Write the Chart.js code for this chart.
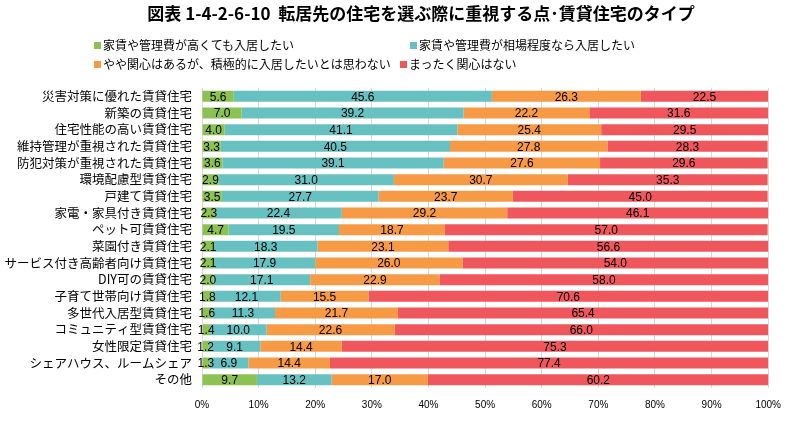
<!DOCTYPE html>
<html lang="ja">
<head>
<meta charset="utf-8">
<script src="https://cdn.jsdelivr.net/npm/chart.js@4.4.1/dist/chart.umd.min.js"></script>
<style>
  body { margin: 0; background: #fff; overflow: hidden; }
  #wrap { position: relative; width: 792px; height: 422px; overflow: hidden; }
  #title {
    position: absolute; top: 3px; left: 0; width: 842px; text-align: center;
    white-space: nowrap; font: bold 17px/20px "Noto Sans CJK JP", sans-serif; color: #000;
  }
  .leg {
    position: absolute; white-space: nowrap; font: 12px/16px "Noto Sans CJK JP", sans-serif; color: #000;
  }
  .leg i { display: inline-block; width: 7px; height: 7px; margin-right: 2px; vertical-align: 1px; }
  canvas { position: absolute; left: 0; top: 0; }
</style>
</head>
<body>
<div id="wrap">
  <canvas id="chart" width="792" height="422"></canvas>
  <div id="title">図表 1-4-2-6-10&nbsp;&nbsp;転居先の住宅を選ぶ際に重視する点･賃貸住宅のタイプ</div>
  <div id="legend"></div>
</div>
<script>
// Categories (top to bottom)
const categories = [
  '災害対策に優れた賃貸住宅', '新築の賃貸住宅', '住宅性能の高い賃貸住宅',
  '維持管理が重視された賃貸住宅', '防犯対策が重視された賃貸住宅', '環境配慮型賃貸住宅',
  '戸建て賃貸住宅', '家電・家具付き賃貸住宅', 'ペット可賃貸住宅', '菜園付き賃貸住宅',
  'サービス付き高齢者向け賃貸住宅', 'DIY可の賃貸住宅', '子育て世帯向け賃貸住宅',
  '多世代入居型賃貸住宅', 'コミュニティ型賃貸住宅', '女性限定賃貸住宅',
  'シェアハウス、ルームシェア', 'その他'
];

const seriesNames = [
  '家賃や管理費が高くても入居したい',
  '家賃や管理費が相場程度なら入居したい',
  'やや関心はあるが、積極的に入居したいとは思わない',
  'まったく関心はない'
];

const highRent   = [5.6, 7.0, 4.0, 3.3, 3.6, 2.9, 3.5, 2.3, 4.7, 2.1, 2.1, 2.0, 1.8, 1.6, 1.4, 1.2, 1.3, 9.7];
const marketRent = [45.6, 39.2, 41.1, 40.5, 39.1, 31.0, 27.7, 22.4, 19.5, 18.3, 17.9, 17.1, 12.1, 11.3, 10.0, 9.1, 6.9, 13.2];
const someInterest = [26.3, 22.2, 25.4, 27.8, 27.6, 30.7, 23.7, 29.2, 18.7, 23.1, 26.0, 22.9, 15.5, 21.7, 22.6, 14.4, 14.4, 17.0];
const noInterest = [22.5, 31.6, 29.5, 28.3, 29.6, 35.3, 45.0, 46.1, 57.0, 56.6, 54.0, 58.0, 70.6, 65.4, 66.0, 75.3, 77.4, 60.2];

const colors = ['#8dc253', '#68c1c1', '#f79a46', '#f0575c'];

// HTML legend, laid out like the original
const legendPos = [[94, 36.5], [410, 36.5], [94, 56], [400, 56]];
const legendEl = document.getElementById('legend');
seriesNames.forEach((name, i) => {
  const d = document.createElement('div');
  d.className = 'leg';
  d.style.left = legendPos[i][0] + 'px';
  d.style.top = legendPos[i][1] + 'px';
  d.innerHTML = `<i style="background:${colors[i]}"></i>${name}`;
  legendEl.appendChild(d);
});

// Draw value in the middle of each segment
const segmentLabels = {
  id: 'segmentLabels',
  afterDatasetsDraw(chart) {
    const ctx = chart.ctx;
    ctx.save();
    ctx.font = '12px "Liberation Sans", Arial, sans-serif';
    ctx.fillStyle = '#000';
    ctx.textAlign = 'center';
    ctx.textBaseline = 'middle';
    chart.data.datasets.forEach((ds, i) => {
      chart.getDatasetMeta(i).data.forEach((bar, j) => {
        const p = bar.getProps(['x', 'y', 'base'], true);
        ctx.fillText(ds.data[j].toFixed(1), (p.x + p.base) / 2, p.y + 1);
      });
    });
    ctx.restore();
  }
};

const allSeries = [highRent, marketRent, someInterest, noInterest];

new Chart(document.getElementById('chart'), {
  type: 'bar',
  data: {
    labels: categories,
    datasets: allSeries.map((data, i) => ({
      label: seriesNames[i],
      data: data,
      backgroundColor: colors[i],
      borderWidth: 0,
      barPercentage: 0.66,
      categoryPercentage: 1
    }))
  },
  options: {
    indexAxis: 'y',
    responsive: false,
    animation: false,
    layout: { padding: { top: 88, right: 22, bottom: 0, left: 0 } },
    plugins: {
      legend: { display: false },
      tooltip: { enabled: false }
    },
    scales: {
      x: {
        stacked: true,
        min: 0,
        max: 100,
        afterFit: s => { s.height = 34; },
        grid: { color: '#d9d9d9', drawTicks: false },
        border: { display: false },
        ticks: {
          stepSize: 10,
          padding: 11,
          color: '#000',
          font: { family: '"Liberation Sans", Arial, sans-serif', size: 10 },
          callback: v => v + '%'
        }
      },
      y: {
        stacked: true,
        afterFit: s => { s.width = 202; },
        grid: { display: false, drawTicks: false },
        border: { display: false },
        ticks: {
          padding: 10,
          color: '#000',
          autoSkip: false,
          font: { family: '"Noto Sans CJK JP", sans-serif', size: 12.5 }
        }
      }
    }
  },
  plugins: [segmentLabels]
});
</script>
</body>
</html>
